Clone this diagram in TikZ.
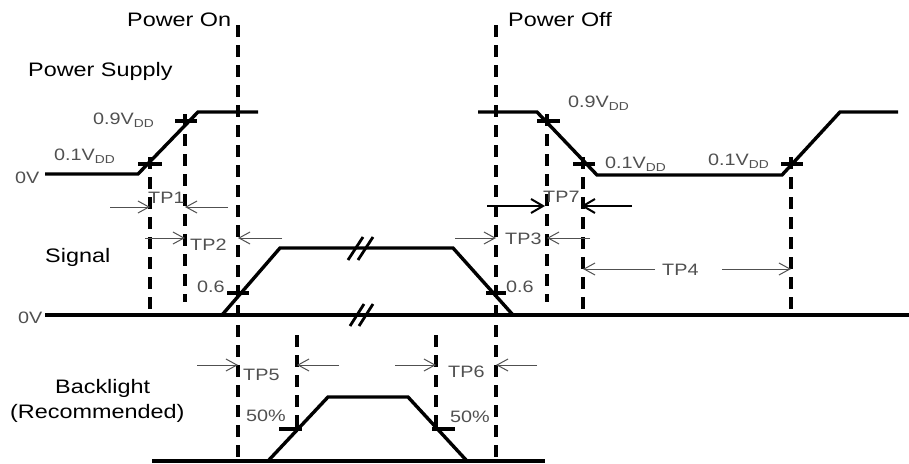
\documentclass[tikz,border=0pt]{standalone}
\usepackage{fontspec}
\setmainfont{Liberation Sans}[FakeStretch=1.2]
\usetikzlibrary{arrows.meta}
\definecolor{labelgray}{RGB}{80,80,80}
\newcommand{\vdd}{V\raisebox{-0.35ex}{\fontsize{11.5}{12}\selectfont DD}}

\begin{document}
\begin{tikzpicture}[
    x=1pt, y=-1pt,
    wave/.style={line width=3.4pt},
    guide/.style={line width=3.2pt, dash pattern=on 12pt off 8pt},
    tickmark/.style={line width=3.2pt},
    dim/.style={-{Straight Barb[length=11pt,width=12pt]}, line width=1pt, labelgray},
    dimbold/.style={-{Straight Barb[length=12pt,width=14pt]}, line width=2pt},
    title/.style={anchor=base west, inner sep=0pt, font=\fontsize{19.5}{22}\selectfont},
    lbl/.style={anchor=base west, inner sep=0pt, text=labelgray, font=\fontsize{16.5}{19}\selectfont}
]
\useasboundingbox (0,0) rectangle (909,463);

% titles
\node[title] (pon) at (127,27) {Power On};
\node[title] (poff) at (508,27) {Power Off};
\node[title] (psup) at (28,76) {Power Supply};
\node[title] (sig) at (45,262) {Signal};
\node[title] (bl) at (55,393) {Backlight};
\node[title] (blrec) at (10,418) {(Recommended)};

% power supply
\draw[wave] (45,174) -- (138,174) -- (198,112) -- (258,112);
\draw[wave] (478,112) -- (537,112) -- (597,175) -- (782,175) -- (840,112) -- (898,112);
\node[lbl] (zvp) at (15,183) {0V};
\node[lbl] (on01) at (54,160) {0.1\vdd};
\node[lbl] (on09) at (93,124) {0.9\vdd};
\node[lbl] (off09) at (568,107) {0.9\vdd};
\node[lbl] (off01) at (605,168) {0.1\vdd};
\node[lbl] (re01) at (708,165) {0.1\vdd};

% signal
\draw[wave] (45,315) -- (909,315);
\draw[wave] (222,315) -- (280,248) -- (453,248) -- (513,315);
\draw[wave, line width=2.8pt] (348,260) -- (363,237) (358,260) -- (373,237);
\draw[wave, line width=2.8pt] (350,326) -- (364,304) (359,326) -- (373,304);
\node[lbl] (zvs) at (18,323) {0V};
\node[lbl] (sonth) at (197,292) {0.6};
\node[lbl] (softh) at (506,292) {0.6};

% backlight
\draw[wave] (152,461) -- (545,461);
\draw[wave] (268,461) -- (328,397) -- (408,397) -- (467,461);
\node[lbl] (bon) at (246,421) {50\%};
\node[lbl] (boff) at (450,422) {50\%};

% guide lines
\draw[guide] (238,25) -- (238,461);
\draw[guide] (496,25) -- (496,461);
\draw[guide] (150,157) -- (150,315);
\draw[guide] (185,114) -- (185,302);
\draw[guide] (547,114) -- (547,302);
\draw[guide] (583,157) -- (583,315);
\draw[guide] (791,157) -- (791,315);
\draw[guide] (297,335) -- (297,432);
\draw[guide] (436,335) -- (436,432);

% level marks
\draw[tickmark] (138,164) -- (162,164) (175,121) -- (197,121);
\draw[tickmark] (537,121) -- (560,121) (573,164) -- (595,164) (781,164) -- (803,164);
\draw[tickmark] (227,293) -- (249,293) (486,293) -- (506,293);
\draw[tickmark] (279,429) -- (302,429) (432,429) -- (455,429);

% timing
\node[lbl] (tp1) at (148,203) {TP1};
\draw[dim] (110,207) -- (150,207);
\draw[dim] (228,207) -- (185,207);
\node[lbl] (tp2) at (190,250) {TP2};
\draw[dim] (145,238) -- (185,238);
\draw[dim] (282,238) -- (238,238);
\node[lbl] (tp7) at (543,202) {TP7};
\draw[dimbold] (487,206) -- (545,206);
\draw[dimbold] (632,206) -- (581,206);
\node[lbl] (tp3) at (505,244) {TP3};
\draw[dim] (455,238) -- (496,238);
\draw[dim] (590,238) -- (547,238);
\node[lbl] (tp4) at (662,275) {TP4};
\draw[dim] (655,269) -- (583,269);
\draw[dim] (722,269) -- (791,269);
\node[lbl] (tp5) at (243,380) {TP5};
\draw[dim] (197,365) -- (238,365);
\draw[dim] (339,365) -- (297,365);
\node[lbl] (tp6) at (448,377) {TP6};
\draw[dim] (395,365) -- (436,365);
\draw[dim] (537,365) -- (496,365);
\end{tikzpicture}
\end{document}
